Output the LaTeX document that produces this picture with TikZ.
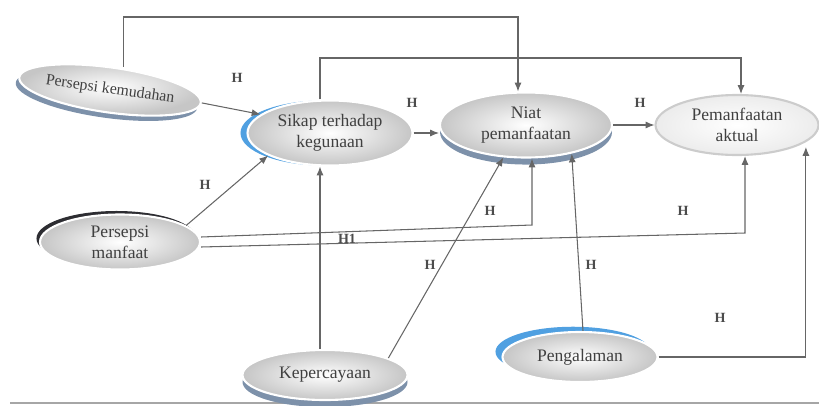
\documentclass[tikz,border=0pt]{standalone}
\usepackage{fontspec}
\setmainfont{Liberation Serif}
\usetikzlibrary{shapes.geometric,shadows,arrows.meta}
\definecolor{rimgray}{RGB}{125,145,170}
\definecolor{rimblue}{RGB}{80,160,225}
\definecolor{rimdark}{RGB}{45,45,50}
\tikzset{
	oval/.style={ellipse, draw=white, line width=1.2pt, inner color=white, outer color=gray!45, text=black!75, align=center, inner sep=0pt},
	rim/.style n args={3}{drop shadow={shadow xshift=#1, shadow yshift=#2, fill=#3, opacity=1}},
	link/.style={draw=black!60, line width=0.6pt, -{Latex[length=5pt,width=4pt]}},
	hlabel/.style={font=\footnotesize\bfseries, text=black!70}
}

\begin{document}
\begin{tikzpicture}
			%%%%% START %%%%%
			
			\useasboundingbox (0, 0) rectangle (16.38, 8.1);
			\draw[line width=0.5mm, color=black!35] (0.2, 0.04) -- (16.38, 0.04);
			
			\node[oval, rim={-2pt}{-3pt}{rimgray}, minimum width=3.6cm, minimum height=0.9cm, rotate=-8, font=\small] (pk) at (2.2, 6.3) {Persepsi kemudahan};
			\node[oval, rim={-4pt}{0pt}{rimblue}, minimum width=3.3cm, minimum height=1.3cm] (sk) at (6.6, 5.44) {Sikap terhadap\\kegunaan};
			\node[oval, rim={0pt}{-4pt}{rimgray}, minimum width=3.44cm, minimum height=1.3cm] (np) at (10.52, 5.6) {Niat\\pemanfaatan};
			\node[oval, draw=gray!40, inner color=white, outer color=gray!15, minimum width=3.26cm, minimum height=1.2cm] (pa) at (14.74, 5.6) {Pemanfaatan\\aktual};
			\node[oval, rim={-2pt}{2pt}{rimdark}, minimum width=3.2cm, minimum height=1.1cm] (pm) at (2.4, 3.26) {Persepsi\\manfaat};
			\node[oval, rim={0pt}{-4pt}{rimgray}, minimum width=3.3cm, minimum height=1.0cm] (kp) at (6.5, 0.6) {Kepercayaan};
			\node[oval, rim={-4pt}{3pt}{rimblue}, minimum width=3.1cm, minimum height=1.0cm] (pg) at (11.6, 0.96) {Pengalaman};
			
			\draw[link] ([xshift=2mm]pk.north) -- ([xshift=2mm]pk.north |- 0, 7.76) -| ([xshift=-1.6mm]np.north);
			\draw[link] ([xshift=-2mm]sk.north) -- ([xshift=-2mm]sk.north |- 0, 6.94) -| ([xshift=0.8mm]pa.north);
			
			\draw[link] (pk.east) -- (sk.165);
			\draw[link] (pm.14) -- (sk.200);
			\draw[link] (sk.east) -- (sk.east -| np.west);
			\draw[link] (np.east) -- (np.east -| pa.west);
			
			\draw[link] ([yshift=1mm]pm.east) -- ([xshift=1.2mm]np.south |- 0, 3.6) -- ([xshift=1.2mm]np.south);
			\draw[link] ([yshift=-1mm]pm.east) -- ([xshift=1.6mm]pa.south |- 0, 3.44) -- ([xshift=1.6mm]pa.south);
			
			\draw[link] ([xshift=-1mm]kp.north) -- ([xshift=-1mm]kp.north |- sk.south);
			\draw[link] (kp.15) -- (np.235);
			\draw[link] ([xshift=0.6mm]pg.north) -- (np.328);
			\draw[link] (pg.east) -| ([xshift=2.1mm]pa.south east);
			
			\node[hlabel] (h1) at (4.74, 6.54) {H};
			\node[hlabel] (h2) at (4.1, 4.4) {H};
			\node[hlabel] (h3) at (8.24, 6.04) {H};
			\node[hlabel] (h4) at (12.8, 6.04) {H};
			\node[hlabel] (h5) at (9.8, 3.88) {H};
			\node[hlabel] (h6) at (6.94, 3.32) {H1};
			\node[hlabel] (h7) at (13.66, 3.88) {H};
			\node[hlabel] (h8) at (8.6, 2.8) {H};
			\node[hlabel] (h9) at (11.82, 2.8) {H};
			\node[hlabel] (h10) at (14.4, 1.74) {H};
			
			%%%%% END %%%%%
		\end{tikzpicture}
\end{document}
